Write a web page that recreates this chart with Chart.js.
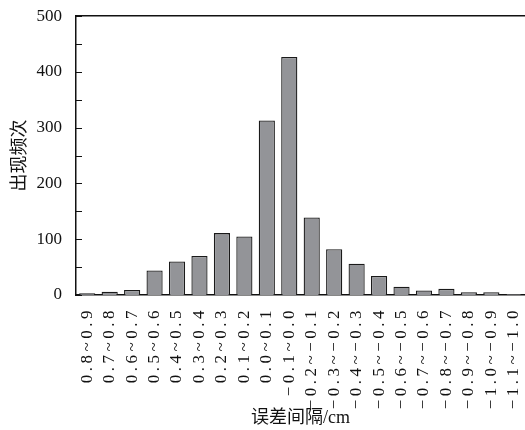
<!DOCTYPE html>
<html>
<head>
<meta charset="utf-8">
<script src="https://cdn.jsdelivr.net/npm/chart.js@4/dist/chart.umd.min.js"></script>
<style>
  html, body { margin: 0; padding: 0; background: #fff; overflow: hidden; }
  canvas { display: block; }
</style>
</head>
<body>
<canvas id="c" width="525" height="430"></canvas>
<script>
// Error intervals (cm) and how often each occurred
const intervals = [
  '0.8~0.9', '0.7~0.8', '0.6~0.7', '0.5~0.6', '0.4~0.5', '0.3~0.4', '0.2~0.3',
  '0.1~0.2', '0.0~0.1', '\u22120.1~0.0', '\u22120.2~\u22120.1', '\u22120.3~\u22120.2',
  '\u22120.4~\u22120.3', '\u22120.5~\u22120.4', '\u22120.6~\u22120.5', '\u22120.7~\u22120.6',
  '\u22120.8~\u22120.7', '\u22120.9~\u22120.8', '\u22121.0~\u22120.9', '\u22121.1~\u22121.0'
];
const counts = [3, 6, 9, 44, 60, 70, 111, 105, 313, 427, 139, 82, 56, 34, 15, 8, 11, 5, 5, 2];
const yTickValues = [0, 100, 200, 300, 400, 500];
const yMinorValues = [50, 150, 250, 350, 450];

const serif = '"Liberation Serif", "Times New Roman", serif';
const titleFont = '"Liberation Serif", "Noto Sans CJK SC", serif';

// Inward tick marks on the value axis, and spaced-out category labels
const axisDecor = {
  id: 'axisDecor',
  beforeDraw(chart) {
    const xs = chart.scales.x;
    if (!xs._spaced) {
      const orig = xs.drawLabels.bind(xs);
      xs.drawLabels = function (area) {
        const ctx = chart.ctx;
        ctx.save();
        ctx.letterSpacing = '3.5px';
        orig(area);
        ctx.restore();
      };
      xs._spaced = true;
    }
  },
  afterDraw(chart) {
    const ys = chart.scales.y;
    const ctx = chart.ctx;
    const left = chart.chartArea.left;
    ctx.save();
    ctx.strokeStyle = '#111';
    ctx.lineWidth = 1.2;
    ctx.beginPath();
    yTickValues.concat(yMinorValues).forEach(v => {
      const y = Math.round(ys.getPixelForValue(v)) + 0.5;
      ctx.moveTo(left, y);
      ctx.lineTo(left + 6, y);
    });
    ctx.stroke();
    ctx.restore();
  }
};

new Chart(document.getElementById('c'), {
  type: 'bar',
  data: {
    labels: intervals,
    datasets: [{
      data: counts,
      backgroundColor: '#939498',
      borderColor: '#1a1a1a',
      borderWidth: 1.3,
      barPercentage: 0.72,
      categoryPercentage: 1.0
    }]
  },
  options: {
    responsive: false,
    animation: false,
    devicePixelRatio: 1,
    layout: { padding: { left: 0, right: 0, top: 15, bottom: 0 } },
    plugins: { legend: { display: false }, tooltip: { enabled: false } },
    scales: {
      x: {
        position: 'bottom',
        grid: { display: false },
        border: { display: true, color: '#111', width: 1.5 },
        ticks: {
          autoSkip: false,
          minRotation: 90,
          maxRotation: 90,
          padding: 4,
          color: '#111',
          font: { family: serif, size: 17 }
        },
        title: {
          display: true,
          text: '误差间隔/cm',
          color: '#111',
          font: { family: titleFont, size: 18 },
          padding: { top: 0, bottom: 1 }
        },
        afterFit(scale) {
          scale.height = 135;
          scale.paddingLeft = 0;
          scale.paddingRight = 0;
        }
      },
      top: {
        type: 'category',
        labels: intervals,
        position: 'top',
        grid: { display: false },
        border: { display: true, color: '#111', width: 1.5 },
        ticks: { display: false },
        afterFit(scale) {
          scale.height = 0;
          scale.paddingLeft = 0;
          scale.paddingRight = 0;
        }
      },
      y: {
        min: 0,
        max: 500,
        grid: { display: false },
        border: { display: true, color: '#111', width: 1.5 },
        afterBuildTicks(scale) {
          scale.ticks = yTickValues.map(v => ({ value: v }));
        },
        ticks: {
          padding: 6,
          color: '#111',
          font: { family: serif, size: 17 }
        },
        title: {
          display: true,
          text: '出现频次',
          color: '#111',
          font: { family: titleFont, size: 18 },
          padding: { top: 9, bottom: 0 }
        },
        afterFit(scale) {
          scale.width = 76;
        }
      }
    }
  },
  plugins: [axisDecor]
});
</script>
</body>
</html>
